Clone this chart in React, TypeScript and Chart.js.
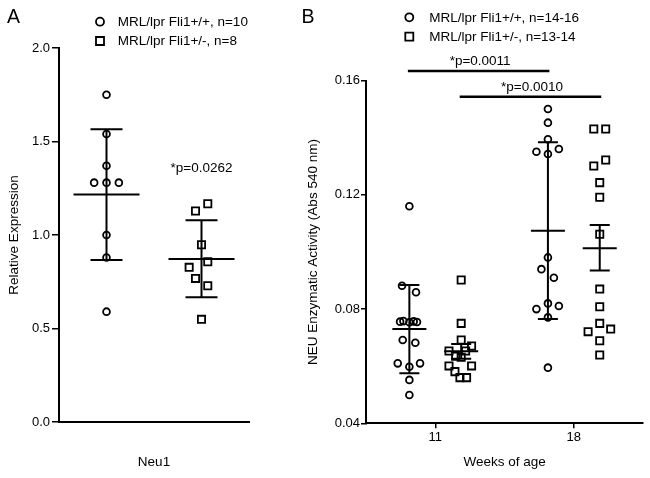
import React, { useEffect, useRef } from 'react';
import { Chart, registerables } from 'chart.js';

Chart.register(...registerables);

const FONT = '"Liberation Sans", Arial, Helvetica, sans-serif';
const INK = '#000000';

// ---------------- Panel A data ----------------
const panelALetter = 'A';
const categoryA = 'Neu1';
const yTitleA = 'Relative Expression';
const legendA = ['MRL/lpr Fli1+/+, n=10', 'MRL/lpr Fli1+/-, n=8'];
const yTicksA = [0, 0.5, 1.0, 1.5, 2.0];
const wtA = [1.75, 1.54, 1.37, 1.28, 1.28, 1.28, 1.0, 0.88, 0.59];
const wtJitterA = [0, 0, 0, -0.13, 0, 0.13, 0, 0, 0];
const hetA = [1.167, 1.128, 0.948, 0.857, 0.827, 0.768, 0.729, 0.549];
const hetJitterA = [0.066, -0.063, 0, 0.066, -0.13, -0.063, 0.066, 0];
const meanA = [1.216, 0.872];
const upperA = [1.565, 1.079];
const lowerA = [0.866, 0.667];
const pLabelA = '*p=0.0262';
const pLabelYA = 1.338;

// ---------------- Panel B data ----------------
const panelBLetter = 'B';
const weeksB = ['11', '18'];
const xTitleB = 'Weeks of age';
const yTitleB = 'NEU Enzymatic Activity (Abs 540 nm)';
const legendB = ['MRL/lpr Fli1+/+, n=14-16', 'MRL/lpr Fli1+/-, n=13-14'];
const yTicksB = [0.04, 0.08, 0.12, 0.16];
const wt11 = [0.116, 0.0882, 0.0859, 0.0756, 0.0758, 0.0754, 0.0757, 0.0755, 0.0692, 0.0682, 0.061, 0.0598, 0.061, 0.0552, 0.0499];
const wt11Jitter = [0, -0.053, 0.048, -0.067, -0.043, 0, 0.031, 0.055, -0.048, 0.043, -0.084, 0, 0.077, 0, 0];
const het11 = [0.0902, 0.075, 0.0692, 0.0671, 0.0653, 0.0653, 0.0635, 0.0631, 0.0601, 0.0601, 0.0581, 0.056, 0.056];
const het11Jitter = [0, 0, 0, 0.075, -0.088, 0.032, -0.04, 0, -0.088, 0.075, -0.045, -0.009, 0.039];
const wt18 = [0.1501, 0.1453, 0.1395, 0.1351, 0.1361, 0.1343, 0.0981, 0.094, 0.091, 0.082, 0.08, 0.0811, 0.0771, 0.0595];
const wt18Jitter = [0, 0, 0, -0.083, 0.079, 0, 0, -0.047, 0.043, 0, -0.083, 0.079, 0, 0];
const het18 = [0.1431, 0.1431, 0.1301, 0.1322, 0.1243, 0.1192, 0.1062, 0.087, 0.0808, 0.075, 0.0721, 0.073, 0.0689, 0.0639];
const het18Jitter = [-0.043, 0.043, -0.043, 0.043, 0, 0, 0, 0, 0, 0, -0.084, 0.079, 0, 0];
const meanWtB = [0.073, 0.1074];
const upperWtB = [0.0884, 0.1384];
const lowerWtB = [0.0575, 0.0765];
const meanHetB = [0.0652, 0.1013];
const upperHetB = [0.0678, 0.1095];
const lowerHetB = [0.0626, 0.0935];
const sigLabelsB = ['*p=0.0011', '*p=0.0010'];
const sigLevelsB = [0.1634, 0.1544];

const GROUP_OFFSET_B = 0.187;

function drawMeanSD(ctx: CanvasRenderingContext2D, xs: any, ys: any, xv: number, mean: number, up: number, lo: number, meanHalf: number, capHalf: number) {
  const px = xs.getPixelForValue(xv);
  const pm = ys.getPixelForValue(mean);
  const pu = ys.getPixelForValue(up);
  const pl = ys.getPixelForValue(lo);
  ctx.beginPath();
  ctx.moveTo(px, pu);
  ctx.lineTo(px, pl);
  ctx.moveTo(px - meanHalf, pm);
  ctx.lineTo(px + meanHalf, pm);
  ctx.moveTo(px - capHalf, pu);
  ctx.lineTo(px + capHalf, pu);
  ctx.moveTo(px - capHalf, pl);
  ctx.lineTo(px + capHalf, pl);
  ctx.stroke();
}

function drawLegend(ctx: CanvasRenderingContext2D, mx: number, rows: number[], tx: number, labels: string[]) {
  ctx.save();
  ctx.strokeStyle = INK;
  ctx.fillStyle = INK;
  ctx.lineWidth = 1.8;
  ctx.beginPath();
  ctx.arc(mx, rows[0], 4, 0, Math.PI * 2);
  ctx.stroke();
  ctx.beginPath();
  ctx.rect(mx - 4, rows[1] - 4, 8, 8);
  ctx.stroke();
  ctx.font = `13.5px ${FONT}`;
  ctx.textAlign = 'left';
  ctx.textBaseline = 'middle';
  labels.forEach((l, i) => ctx.fillText(l, tx, rows[i] + 0.5));
  ctx.restore();
}

function pointDs(label: string, data: { x: number; y: number }[], style: string, radius: number) {
  return {
    label,
    data,
    pointStyle: style,
    pointRadius: radius,
    pointHoverRadius: radius,
    pointBorderColor: INK,
    pointBackgroundColor: 'rgba(0,0,0,0)',
    pointBorderWidth: 1.8,
    showLine: false,
  };
}

const titleFont = { family: FONT, size: 13.5 };
const tickFont = { family: FONT, size: 13 };

function configA(): any {
  const overlay = {
    id: 'overlayA',
    afterDatasetsDraw(chart: any) {
      const { ctx, scales } = chart;
      const xs = scales.x;
      const ys = scales.y;
      ctx.save();
      ctx.strokeStyle = INK;
      ctx.lineWidth = 2;
      [0, 1].forEach((c, i) => drawMeanSD(ctx, xs, ys, c, meanA[i], upperA[i], lowerA[i], 33, 16));
      ctx.fillStyle = INK;
      ctx.font = `13.5px ${FONT}`;
      ctx.textAlign = 'center';
      ctx.textBaseline = 'alphabetic';
      ctx.fillText(pLabelA, xs.getPixelForValue(1), ys.getPixelForValue(pLabelYA));
      ctx.font = `19.5px ${FONT}`;
      ctx.textAlign = 'left';
      ctx.fillText(panelALetter, 7, 22.5);
      ctx.restore();
      drawLegend(ctx, 100, [21.7, 41], 117.7, legendA);
    },
  };
  return {
    type: 'scatter',
    data: {
      datasets: [
        pointDs(legendA[0], wtA.map((v, i) => ({ x: 0 + wtJitterA[i], y: v })), 'circle', 3.4),
        pointDs(legendA[1], hetA.map((v, i) => ({ x: 1 + hetJitterA[i], y: v })), 'rect', 5.1),
      ],
    },
    options: {
      responsive: false,
      animation: false,
      devicePixelRatio: 1,
      layout: { padding: { left: 0, right: 46, top: 48, bottom: 0 } },
      plugins: { legend: { display: false }, tooltip: { enabled: false } },
      scales: {
        x: {
          type: 'linear',
          min: -0.5,
          max: 1.5,
          ticks: { display: false },
          grid: { display: true, drawOnChartArea: false, drawTicks: false },
          border: { display: true, color: INK, width: 2 },
          title: { display: true, text: categoryA, color: INK, font: titleFont, padding: { top: 0, bottom: 7.4 } },
          afterFit: (s: any) => { s.height = 56; },
        },
        y: {
          type: 'linear',
          min: yTicksA[0],
          max: yTicksA[yTicksA.length - 1],
          afterBuildTicks: (s: any) => { s.ticks = yTicksA.map((v) => ({ value: v })); },
          ticks: { color: INK, font: tickFont, padding: 2, callback: (v: any) => Number(v).toFixed(1) },
          grid: { drawOnChartArea: false, drawTicks: true, tickLength: 7, color: INK, lineWidth: 1.5 },
          border: { display: true, color: INK, width: 2 },
          title: { display: true, text: yTitleA, color: INK, font: titleFont, padding: { top: 6.4, bottom: 0 } },
          afterFit: (s: any) => { s.width = 59; },
        },
      },
    },
    plugins: [overlay],
  };
}

function configB(): any {
  const overlay = {
    id: 'overlayB',
    afterDatasetsDraw(chart: any) {
      const { ctx, scales } = chart;
      const xs = scales.x;
      const ys = scales.y;
      ctx.save();
      ctx.strokeStyle = INK;
      ctx.lineWidth = 2;
      [0, 1].forEach((c, i) => {
        drawMeanSD(ctx, xs, ys, c - GROUP_OFFSET_B, meanWtB[i], upperWtB[i], lowerWtB[i], 17, 10);
        drawMeanSD(ctx, xs, ys, c + GROUP_OFFSET_B, meanHetB[i], upperHetB[i], lowerHetB[i], 17, 10);
      });
      // significance bars
      const pairs = [
        [0 - GROUP_OFFSET_B, 1 - GROUP_OFFSET_B],
        [0 + GROUP_OFFSET_B, 1 + GROUP_OFFSET_B],
      ];
      ctx.lineWidth = 2.5;
      ctx.fillStyle = INK;
      ctx.font = `13.5px ${FONT}`;
      ctx.textAlign = 'center';
      ctx.textBaseline = 'alphabetic';
      pairs.forEach((p, i) => {
        const x1 = xs.getPixelForValue(p[0]) - 1.5;
        const x2 = xs.getPixelForValue(p[1]) + 1.5;
        const yy = ys.getPixelForValue(sigLevelsB[i]);
        ctx.beginPath();
        ctx.moveTo(x1, yy);
        ctx.lineTo(x2, yy);
        ctx.stroke();
        ctx.fillText(sigLabelsB[i], (x1 + x2) / 2 + 1.5, yy - 6);
      });
      ctx.font = `19.5px ${FONT}`;
      ctx.textAlign = 'left';
      ctx.fillText(panelBLetter, 6.5, 22.5);
      ctx.restore();
      drawLegend(ctx, 114.3, [17.3, 36.7], 134.3, legendB);
    },
  };
  return {
    type: 'scatter',
    data: {
      datasets: [
        pointDs(legendB[0], [
          ...wt11.map((v, i) => ({ x: 0 - GROUP_OFFSET_B + wt11Jitter[i], y: v })),
          ...wt18.map((v, i) => ({ x: 1 - GROUP_OFFSET_B + wt18Jitter[i], y: v })),
        ], 'circle', 3.4),
        pointDs(legendB[1], [
          ...het11.map((v, i) => ({ x: 0 + GROUP_OFFSET_B + het11Jitter[i], y: v })),
          ...het18.map((v, i) => ({ x: 1 + GROUP_OFFSET_B + het18Jitter[i], y: v })),
        ], 'rect', 5.1),
      ],
    },
    options: {
      responsive: false,
      animation: false,
      devicePixelRatio: 1,
      layout: { padding: { left: 0, right: 6.7, top: 80.7, bottom: 0 } },
      plugins: { legend: { display: false }, tooltip: { enabled: false } },
      scales: {
        x: {
          type: 'linear',
          min: -0.5,
          max: 1.5,
          afterBuildTicks: (s: any) => { s.ticks = weeksB.map((_, i) => ({ value: i })); },
          ticks: { color: INK, font: tickFont, padding: 1, autoSkip: false, maxRotation: 0, callback: (v: any) => weeksB[Math.round(Number(v))] },
          grid: { drawOnChartArea: false, drawTicks: true, tickLength: 5, color: INK, lineWidth: 1.5 },
          border: { display: true, color: INK, width: 2 },
          title: { display: true, text: xTitleB, color: INK, font: titleFont, padding: { top: 0, bottom: 7.4 } },
          afterFit: (s: any) => { s.height = 54.7; },
        },
        y: {
          type: 'linear',
          min: yTicksB[0],
          max: yTicksB[yTicksB.length - 1],
          afterBuildTicks: (s: any) => { s.ticks = yTicksB.map((v) => ({ value: v })); },
          ticks: { color: INK, font: tickFont, padding: 1, callback: (v: any) => Number(v).toFixed(2) },
          grid: { drawOnChartArea: false, drawTicks: true, tickLength: 5, color: INK, lineWidth: 1.5 },
          border: { display: true, color: INK, width: 2 },
          title: { display: true, text: yTitleB, color: INK, font: titleFont, padding: { top: 10, bottom: 0 } },
          afterFit: (s: any) => { s.width = 71; },
        },
      },
    },
    plugins: [overlay],
  };
}

function ChartCanvas({ make, left, width }: { make: () => any; left: number; width: number }) {
  const ref = useRef<HTMLCanvasElement>(null);
  useEffect(() => {
    if (!ref.current) return;
    const chart = new Chart(ref.current, make());
    return () => chart.destroy();
  }, []);
  return (
    <canvas
      ref={ref}
      width={width}
      height={478}
      style={{ position: 'absolute', left, top: 0, width, height: 478, display: 'block' }}
    />
  );
}

export default function App() {
  return (
    <div style={{ position: 'absolute', left: 0, top: 0, width: 650, height: 478, background: '#ffffff', overflow: 'hidden' }}>
      <ChartCanvas make={configA} left={0} width={295} />
      <ChartCanvas make={configB} left={295} width={355} />
    </div>
  );
}
